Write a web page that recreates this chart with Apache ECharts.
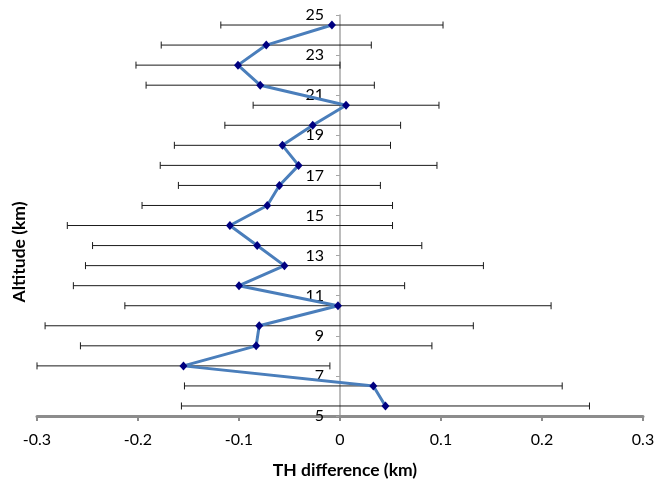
<!DOCTYPE html>
<html>
<head>
<meta charset="utf-8">
<script src="https://cdn.jsdelivr.net/npm/echarts@6/dist/echarts.min.js"></script>
<style>
html,body{margin:0;padding:0;background:#fff;}
#chart{width:667px;height:481px;}
</style>
</head>
<body>
<div id="chart"></div>
<script>
// Altitude (km) of each point
var altitude = [5.5, 6.5, 7.5, 8.5, 9.5, 10.5, 11.5, 12.5, 13.5, 14.5, 15.5, 16.5, 17.5, 18.5, 19.5, 20.5, 21.5, 22.5, 23.5, 24.5];
// TH difference (km)
var thDiff = [0.045, 0.033, -0.155, -0.083, -0.080, -0.002, -0.100, -0.055, -0.082, -0.109, -0.072, -0.060, -0.041, -0.057, -0.027, 0.006, -0.079, -0.101, -0.073, -0.008];
// Error bar half-width (km)
var errHalf = [0.202, 0.187, 0.145, 0.174, 0.212, 0.211, 0.164, 0.197, 0.163, 0.161, 0.124, 0.100, 0.137, 0.107, 0.087, 0.092, 0.113, 0.101, 0.104, 0.110];

var xTitle = 'TH difference (km)';
var yTitle = 'Altitude (km)';

var FONT = 'Lato, "Open Sans", sans-serif';

var lineData = altitude.map(function (a, i) { return [thDiff[i], a]; });
var errData = altitude.map(function (a, i) { return [thDiff[i] - errHalf[i], thDiff[i] + errHalf[i], a]; });

var GRID_LEFT = 37, GRID_RIGHT = 24;
var plotW = 667 - GRID_LEFT - GRID_RIGHT;
// y axis sits at x = 0 of the symmetric -0.3..0.3 range (centre of plot)
var yAxisOffset = -plotW / 2;

var chart = echarts.init(document.getElementById('chart'));
chart.setOption({
  animation: false,
  backgroundColor: '#ffffff',
  grid: { left: GRID_LEFT, right: GRID_RIGHT, top: 15, bottom: 65, containLabel: false, outerBoundsMode: 'none' },
  xAxis: {
    type: 'value', min: -0.3, max: 0.3, interval: 0.1,
    axisLine: { onZero: false, lineStyle: { color: '#8c8c8c', width: 3 } },
    axisTick: { show: true, length: 5, lineStyle: { color: '#8c8c8c', width: 2 } },
    axisLabel: { color: '#000', fontSize: 16, fontFamily: FONT, margin: 16,
      formatter: function (v) { return (Math.round(v * 10) / 10).toString(); } },
    splitLine: { show: false },
    name: xTitle, nameLocation: 'middle', nameGap: 45,
    nameTextStyle: { color: '#000', fontSize: 17.5, fontWeight: 'bold', fontFamily: FONT, padding: [0, 0, 0, 10] }
  },
  yAxis: {
    type: 'value', min: 5, max: 25, interval: 2,
    position: 'left', offset: yAxisOffset,
    axisLine: { onZero: false, lineStyle: { color: '#a6a6a6', width: 1.5 } },
    axisTick: { show: true, length: 4, lineStyle: { color: '#a6a6a6', width: 1 } },
    axisLabel: { color: '#000', fontSize: 16, fontFamily: FONT, margin: 16 },
    splitLine: { show: false }
  },
  graphic: [{
    type: 'text', x: 19, y: 252, rotation: Math.PI / 2,
    style: { text: yTitle, fill: '#000', font: 'bold 17.5px ' + FONT, textAlign: 'center', textVerticalAlign: 'middle' }
  }],
  series: [{
    type: 'custom',
    z: 1,
    data: errData,
    encode: { x: [0, 1], y: 2 },
    renderItem: function (params, api) {
      var p1 = api.coord([api.value(0), api.value(2)]);
      var p2 = api.coord([api.value(1), api.value(2)]);
      var h = 3.5;
      var st = { stroke: '#1a1a1a', lineWidth: 1 };
      return {
        type: 'group',
        children: [
          { type: 'line', shape: { x1: p1[0], y1: p1[1], x2: p2[0], y2: p2[1] }, style: st },
          { type: 'line', shape: { x1: p1[0], y1: p1[1] - h, x2: p1[0], y2: p1[1] + h }, style: st },
          { type: 'line', shape: { x1: p2[0], y1: p2[1] - h, x2: p2[0], y2: p2[1] + h }, style: st }
        ]
      };
    }
  }, {
    type: 'line',
    z: 3,
    data: lineData,
    symbol: 'diamond',
    symbolSize: [8, 9],
    lineStyle: { color: '#4a7ebb', width: 3 },
    itemStyle: { color: '#000080' }
  }]
});
</script>
</body>
</html>
